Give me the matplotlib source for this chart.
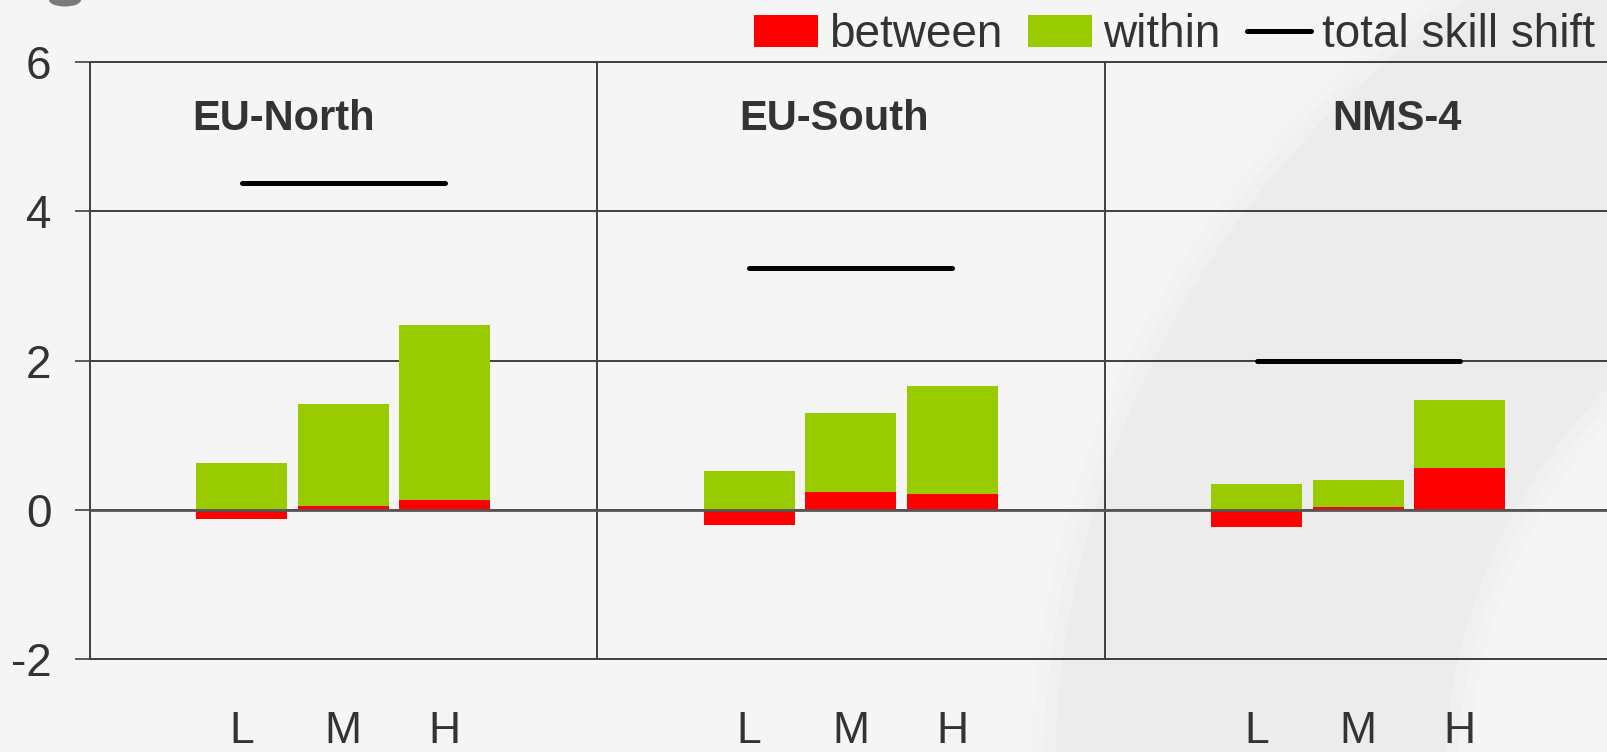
import matplotlib

matplotlib.use("Agg")
import matplotlib.pyplot as plt
import numpy as np
from matplotlib.lines import Line2D
from matplotlib.patches import Ellipse, Patch, Wedge

plt.rcParams["font.family"] = ["Liberation Sans", "DejaVu Sans"]

regions = ["EU-North", "EU-South", "NMS-4"]
levels = ["L", "M", "H"]
between = [
    [-0.13, 0.05, 0.13],
    [-0.21, 0.24, 0.21],
    [-0.23, 0.03, 0.56],
]
within = [
    [0.63, 1.36, 2.35],
    [0.52, 1.06, 1.45],
    [0.35, 0.37, 0.91],
]
total_shift = [4.38, 3.24, 2.0]
yticks = [-2, 0, 2, 4, 6]

RED = "#ff0000"
GREEN = "#99cc00"
TEXT = "#333333"
GRID = "#404040"

W, H = 1607, 752
fig = plt.figure(figsize=(W / 100, H / 100), dpi=100)
fig.patch.set_facecolor("#f5f5f5")

# background decoration (slide)
bg = fig.add_axes([0, 0, 1, 1], zorder=-5)
bg.set_xlim(0, W)
bg.set_ylim(H, 0)
bg.axis("off")
for grow, alpha in [(24, 0.2), (12, 0.4), (0, 1.0)]:
    bg.add_patch(
        Wedge(
            (2000, 780),
            r=945 + grow,
            theta1=0,
            theta2=360,
            width=390 + 2 * grow,
            facecolor="#ececec",
            edgecolor="none",
            alpha=alpha,
        )
    )
bg.add_patch(Ellipse((65, 0), 32, 13, facecolor="#7a7a7a", edgecolor="none"))

# plot area: one slot = 101.5 px, panels are 5 slots wide
x0 = 89.5
slot = 101.5
left = x0 / W
bottom = 1 - 658.7 / H
top = 1 - 62.3 / H
ax = fig.add_axes([left, bottom, 1 - left, top - bottom])
ax.set_facecolor("none")

group_w = 5
bar_w = 0.9
xs_all = []
for g, region in enumerate(regions):
    xs = g * group_w + 1.5 + np.arange(len(levels))
    xs_all.extend(xs)
    b = np.array(between[g])
    w = np.array(within[g])
    ax.bar(xs, b, width=bar_w, color=RED, zorder=3)
    ax.bar(xs, w, width=bar_w, bottom=np.clip(b, 0, None), color=GREEN, zorder=3)
    ax.plot(
        [xs[0], xs[-1]],
        [total_shift[g], total_shift[g]],
        color="black",
        lw=3.6,
        solid_capstyle="round",
        zorder=4,
    )

# group titles
title_x = [1.91, 7.34, 12.88]
for g, region in enumerate(regions):
    ax.text(
        title_x[g], 5.24, region, ha="center", va="center",
        fontsize=30, fontweight="bold", color=TEXT,
    )

ax.set_xlim(0, (W - x0) / slot)
ax.set_ylim(-2, 6)
ax.set_yticks(yticks)
ax.set_yticklabels([str(t) for t in yticks])
ax.set_xticks(xs_all)
ax.set_xticklabels(levels * len(regions))

ax.tick_params(axis="y", direction="out", length=11, width=1.2, color=GRID,
               labelsize=33, labelcolor=TEXT, pad=16.5)
ax.tick_params(axis="x", length=0, labelsize=32, labelcolor=TEXT, pad=38)

ax.grid(axis="y", color=GRID, lw=1.4, zorder=1)
ax.set_axisbelow(True)
ax.axhline(0, color="#555555", lw=2, zorder=5)
for g in range(1, len(regions)):
    ax.axvline(g * group_w, color=GRID, lw=1.4, zorder=1)

for s in ["left", "top", "bottom"]:
    ax.spines[s].set_color(GRID)
    ax.spines[s].set_linewidth(1.4)
ax.spines["right"].set_visible(False)

handles = [
    Patch(facecolor=RED, edgecolor="none", label="between"),
    Patch(facecolor=GREEN, edgecolor="none", label="within"),
    Line2D([0], [0], color="black", lw=3.6, solid_capstyle="round",
           label="total skill shift"),
]
fig.legend(
    handles=handles,
    loc="upper right",
    bbox_to_anchor=(1595 / W, 1 - 13 / H),
    ncol=3,
    frameon=False,
    fontsize=33,
    labelcolor=TEXT,
    handlelength=1.4,
    handleheight=0.68,
    handletextpad=0.24,
    columnspacing=0.57,
    borderpad=0,
    borderaxespad=0,
)

fig.savefig("out.png", dpi=100, facecolor=fig.get_facecolor())
